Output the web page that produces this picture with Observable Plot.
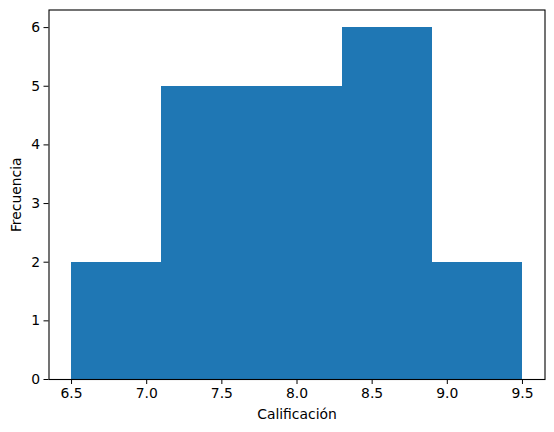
<!DOCTYPE html>
<html>
<head>
<meta charset="utf-8">
<script src="https://cdn.jsdelivr.net/npm/d3@7"></script>
<script src="https://cdn.jsdelivr.net/npm/@observablehq/plot@0.6"></script>
<style>
  html, body { margin: 0; padding: 0; background: #fff; }
  svg { font-family: "DejaVu Sans", sans-serif; }
</style>
</head>
<body>
<div id="chart"></div>
<script>
const binStarts = [6.5, 7.1, 7.7, 8.3, 8.9];
const binEnds   = [7.1, 7.7, 8.3, 8.9, 9.5];
const counts    = [2, 5, 5, 6, 2];
const xTicks = [6.5, 7.0, 7.5, 8.0, 8.5, 9.0, 9.5];
const yTicks = [0, 1, 2, 3, 4, 5, 6];

const bins = binStarts.map((s, i) => ({x1: s, x2: binEnds[i], y: counts[i]}));

const chart = Plot.plot({
  width: 554,
  height: 432,
  marginLeft: 48.5,
  marginRight: 9.5,
  marginTop: 9.5,
  marginBottom: 53,
  style: {fontSize: "13.9px", fontFamily: "DejaVu Sans, sans-serif", color: "#000", background: "#fff"},
  x: {domain: [6.35, 9.65], ticks: xTicks, tickFormat: d3.format(".1f"), tickSize: 5, tickPadding: 4,
      label: "Calificación", labelAnchor: "center", labelArrow: "none", labelOffset: 39},
  y: {domain: [0, 6.3], ticks: yTicks, tickFormat: d3.format("d"), tickSize: 5, tickPadding: 4,
      label: "Frecuencia", labelAnchor: "center", labelArrow: "none", labelOffset: 38},
  marks: [
    Plot.rectY(bins, {x1: "x1", x2: "x2", y: "y", fill: "#1f77b4", insetLeft: 0, insetRight: 0, shapeRendering: "crispEdges"}),
    Plot.frame({stroke: "#000", strokeWidth: 1.1})
  ]
});
document.getElementById("chart").appendChild(chart);
</script>
</body>
</html>
